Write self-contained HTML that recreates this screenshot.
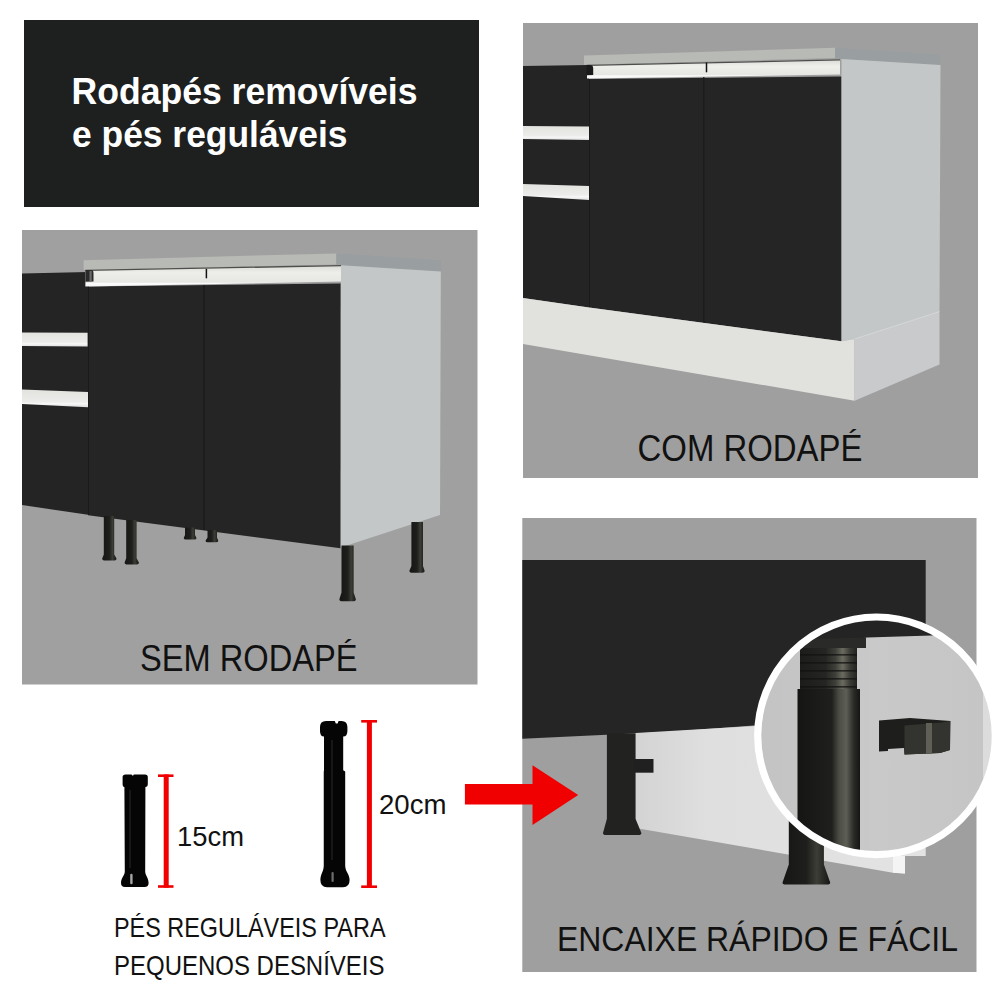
<!DOCTYPE html>
<html><head><meta charset="utf-8">
<style>
html,body{margin:0;padding:0;background:#fff;width:1000px;height:1000px;overflow:hidden}
svg{display:block}
text{font-family:"Liberation Sans",sans-serif}
</style></head><body>
<svg width="1000" height="1000" viewBox="0 0 1000 1000">
<defs>
<linearGradient id="hdl" x1="0" y1="0" x2="0" y2="1">
<stop offset="0" stop-color="#d9dad6"/><stop offset="0.35" stop-color="#eeefeb"/><stop offset="0.8" stop-color="#e6e7e3"/><stop offset="0.86" stop-color="#fbfbfb"/><stop offset="1" stop-color="#f4f4f4"/>
</linearGradient>
<linearGradient id="dh" x1="0" y1="0" x2="0" y2="1">
<stop offset="0" stop-color="#e2e3df"/><stop offset="0.7" stop-color="#ecedea"/><stop offset="0.8" stop-color="#f7f7f7"/><stop offset="1" stop-color="#dcdcdc"/>
</linearGradient>
<linearGradient id="plF" x1="0" y1="0" x2="1" y2="0">
<stop offset="0" stop-color="#d3d3d3"/><stop offset="0.25" stop-color="#dfdfdf"/><stop offset="1" stop-color="#e3e3e3"/>
</linearGradient>
<linearGradient id="wall" x1="0" y1="0" x2="1" y2="0">
<stop offset="0" stop-color="#c3c3c3"/><stop offset="0.5" stop-color="#c9c9c9"/><stop offset="1" stop-color="#c4c4c4"/>
</linearGradient>
<linearGradient id="legc" x1="0" y1="0" x2="1" y2="0">
<stop offset="0" stop-color="#151614"/><stop offset="0.55" stop-color="#1f201d"/><stop offset="0.66" stop-color="#4a4b43"/><stop offset="0.78" stop-color="#5d5e55"/><stop offset="0.9" stop-color="#2a2b27"/><stop offset="1" stop-color="#151513"/>
</linearGradient>
<linearGradient id="thr" x1="0" y1="0" x2="1" y2="0">
<stop offset="0" stop-color="#1c1d1b"/><stop offset="0.45" stop-color="#252623"/><stop offset="0.62" stop-color="#3e3f39"/><stop offset="0.75" stop-color="#6a6a60"/><stop offset="0.88" stop-color="#3a3a35"/><stop offset="1" stop-color="#222220"/>
</linearGradient>
<linearGradient id="legb" x1="0" y1="0" x2="1" y2="0">
<stop offset="0" stop-color="#161715"/><stop offset="0.5" stop-color="#1e1f1c"/><stop offset="0.72" stop-color="#3c3d36"/><stop offset="0.85" stop-color="#2a2b26"/><stop offset="1" stop-color="#171816"/>
</linearGradient>
<clipPath id="cc"><circle cx="876.5" cy="735.8" r="118.8"/></clipPath>
</defs>
<rect x="0" y="0" width="1000" height="1000" fill="#ffffff"/>

<rect x="24" y="20" width="455" height="187" fill="#1d201f"/>
<text x="71.5" y="104.2" font-size="37.7" font-weight="bold" fill="#ffffff" textLength="346" lengthAdjust="spacingAndGlyphs">Rodapés removíveis</text>
<text x="72" y="147" font-size="37.7" font-weight="bold" fill="#ffffff" textLength="275.5" lengthAdjust="spacingAndGlyphs">e pés reguláveis</text>
<rect x="523" y="23" width="455" height="455" fill="#9f9f9f"/>
<polygon points="523,66 589,65 589,307.5 523,298" fill="#242424"/>
<polygon points="589,79 841.5,76.5 841.5,341.3 589,307.5" fill="#252525"/>
<line x1="703.8" y1="77" x2="703.8" y2="323" stroke="#1b1b1b" stroke-width="1.2"/>
<line x1="589.5" y1="79" x2="589.5" y2="307.5" stroke="#1a1a1a" stroke-width="1"/>
<polygon points="584,55.6 835,47.7 835,58 584,64.8" fill="#b8bab6"/>
<polygon points="835,47.7 940.5,54.7 940.5,65 841.7,59 835,58" fill="#999ea0"/>
<polygon points="587,65 840,59.5 840,74.5 587,78.5" fill="url(#hdl)"/>
<line x1="587" y1="65.4" x2="840" y2="59.9" stroke="#4e4f4c" stroke-width="1.3"/>
<line x1="706.5" y1="62.5" x2="706.5" y2="72.3" stroke="#111" stroke-width="1.5"/>
<path d="M586.5,65 L591,65 Q593.2,65.5 593.2,68 L593.2,75 L586.5,75.2 Z" fill="#1a1a1a"/>
<polygon points="841.5,59 940.5,65 939.5,311.6 854.6,339 841.5,341.3" fill="#c3c7c8"/>
<polygon points="523,298 589,307.5 704.6,323 841.5,341.3 854.6,339 854.6,400.7 523,344" fill="#e1e2de"/>
<polygon points="854.6,339 939.5,311.6 939.5,364.4 854.6,400.7" fill="#c8cacc"/>
<line x1="854.6" y1="339" x2="939.5" y2="311.6" stroke="#d6d9da" stroke-width="1"/>
<polygon points="523,126 589,126.5 589,140 523,139" fill="url(#dh)"/>
<polygon points="523,184 589,186 589,200 523,196" fill="url(#dh)"/>
<text x="637.5" y="461" font-size="36" fill="#111" textLength="225" lengthAdjust="spacingAndGlyphs">COM RODAPÉ</text>
<rect x="22" y="230" width="455.5" height="454.5" fill="#a0a0a0"/>
<polygon points="22,273.4 88,272 88,514.7 22,505.1" fill="#242424"/>
<polygon points="88,286.6 340.5,283.4 340.5,548.3 88,515.2" fill="#252525"/>
<line x1="204" y1="285" x2="204" y2="530" stroke="#181818" stroke-width="1.2"/>
<line x1="88.5" y1="286" x2="88.5" y2="515" stroke="#1a1a1a" stroke-width="1"/>
<polygon points="83.6,260.2 336.4,253.4 336.4,264.6 83.6,270" fill="#b8bab6"/>
<polygon points="336.4,253.4 440.8,260.2 440.8,271.4 341.4,265.2 336.4,264.6" fill="#999ea0"/>
<polygon points="85.4,270 341.4,265.2 341.4,281.5 85.4,286.4" fill="url(#hdl)"/>
<line x1="85.4" y1="270.4" x2="341.4" y2="265.6" stroke="#4e4f4c" stroke-width="1.3"/>
<line x1="206.4" y1="268.8" x2="206.4" y2="278.3" stroke="#111" stroke-width="1.5"/>
<path d="M85.4,270 L92,270 Q93.5,270.5 93.5,273 L93.5,281.5 L85.4,281.8 Z" fill="#2a2a2a"/><rect x="89.5" y="271" width="2.2" height="10" fill="#6a6a6a"/>
<polygon points="341,265.2 440.8,271.4 440,515 340.8,547.4" fill="#c3c7c8"/>
<polygon points="22,332.4 87.6,332.8 87.6,346.6 22,346" fill="url(#dh)"/>
<polygon points="22,389.6 88,392 88,407.2 22,404" fill="url(#dh)"/>
<path d="M103.8,516 L114.2,516 L114.2,554.4 L116.5,558.6 Q116.5,560.6 113.5,560.6 L105.2,560.6 Q102.2,560.6 102.2,558.6 L103.8,554.4 Z" fill="url(#legb)"/>
<path d="M126.2,520 L136.6,520 L136.6,558.3 L138.9,562.5 Q138.9,564.5 135.9,564.5 L127.6,564.5 Q124.6,564.5 124.6,562.5 L126.2,558.3 Z" fill="url(#legb)"/>
<path d="M185,527.5 L195,527.5 L195,535 L196.5,538 Q196.5,539.5 194.25,539.5 L186,539.5 Q183.75,539.5 183.75,538 L185,535 Z" fill="url(#legb)"/>
<path d="M207.5,530 L217,530 L217,537.5 L218.25,540.667 Q218.25,542.25 215.875,542.25 L207.875,542.25 Q205.5,542.25 205.5,540.667 L207.5,537.5 Z" fill="url(#legb)"/>
<path d="M341.5,545.5 L353.65,545.5 L353.65,592.5 L355.85,599.3 Q355.85,601.3 352.85,601.3 L342.35,601.3 Q339.35,601.3 339.35,599.3 L341.5,592.5 Z" fill="url(#legb)"/>
<path d="M411.4,522 L423,522 L423,566.1 L424.6,570.7 Q424.6,572.7 421.6,572.7 L412.4,572.7 Q409.4,572.7 409.4,570.7 L411.4,566.1 Z" fill="url(#legb)"/>
<text x="140" y="670.5" font-size="37" fill="#111" textLength="217.5" lengthAdjust="spacingAndGlyphs">SEM RODAPÉ</text>
<path d="M122.6,777 Q122.6,774.4 125.5,774.4 L131.6,774.4 L132.2,775.6 L133.2,775.6 L133.8,774.4 L145,774.4 Q147.8,774.4 147.8,777 L147.8,784 Q147.8,787 145.4,787 L145.2,871.8 C145.5,876 148.6,878 148.6,883 Q148.6,887 144.5,887 L125,887 Q121,887 121,883 C121,878 124.5,876 124.8,871.8 L124.4,787 Q122.6,787 122.6,784 Z" fill="#050505"/>
<rect x="130.2" y="873.8" width="2.4" height="10.4" rx="1.2" fill="#d0d0d0" opacity="0.8"/>
<rect x="129" y="790" width="2" height="78" fill="#1c1c1c" opacity="0.8"/>
<path d="M320,727 Q320,721 326,721 L334.8,721 L335.8,723.5 L337.6,723.5 L338.6,721 L341.5,721 Q347.4,721 347.4,727 L347.4,731 Q347.4,736.5 343.2,736.5 L343.2,770.3 L345.2,771.5 L345.2,866 C345.5,872 349.6,874 349.6,880 Q349.6,887.3 343,887.3 L327,887.3 Q320.4,887.3 320.4,880 C320.4,874 323.5,872 323.75,866 L323.75,771.5 L324,770.3 L324,736.5 Q320,736.5 320,731 Z" fill="#050505"/>
<rect x="331" y="740" width="2" height="120" fill="#1c1c1c" opacity="0.8"/>
<rect x="331.5" y="872" width="2.2" height="10" rx="1.1" fill="#9a9a9a" opacity="0.7"/>
<g fill="#f00000">
<rect x="163.7" y="774.4" width="5" height="113.3"/>
<rect x="158" y="774.4" width="15.5" height="2.6"/>
<rect x="158" y="885.2" width="15.5" height="2.6"/>
<rect x="366.9" y="720" width="5" height="168"/>
<rect x="361.2" y="720" width="15.8" height="2.6"/>
<rect x="361.2" y="885.4" width="15.8" height="2.6"/>
</g>
<text x="177" y="846.3" font-size="27.5" fill="#111" textLength="67" lengthAdjust="spacingAndGlyphs">15cm</text>
<text x="379" y="814.3" font-size="27.5" fill="#111" textLength="67.5" lengthAdjust="spacingAndGlyphs">20cm</text>
<text x="114" y="937" font-size="27.3" fill="#111" textLength="271.5" lengthAdjust="spacingAndGlyphs">PÉS REGULÁVEIS PARA</text>
<text x="114" y="974.6" font-size="27.8" fill="#111" textLength="270.5" lengthAdjust="spacingAndGlyphs">PEQUENOS DESNÍVEIS</text>
<rect x="522.3" y="518" width="454.2" height="454" fill="#9f9f9f"/>
<polygon points="522.3,560 925.7,560 925.7,716 760,725 670,731.7 522.3,738.75" fill="#252525"/>
<polygon points="635.5,733 925.7,716 925.7,856 905,856 905,873.6 893,872.7 635.5,828" fill="url(#plF)"/>
<polygon points="893,856 905,856 905,873.6 893,872.7" fill="#f4f4f4"/>
<path d="M606.9,733.5 L635.5,733.5 L635.5,818.8 L641.4,833.1 Q641.4,835.1 638.4,835.1 L606,835.1 Q603,835.1 603,833.1 L606.9,818.8 Z" fill="#222220"/>
<polygon points="634.2,759 653.5,759 653.5,772.7 634.2,772.7" fill="#202020"/>
<path d="M788.8,800 L823.9,800 L823.9,864.6 L830.2,882.4 Q830.2,884.4 827.2,884.4 L785.5,884.4 Q782.5,884.4 782.5,882.4 L788.8,864.6 Z" fill="url(#legb)"/>
<g clip-path="url(#cc)">
<rect x="750" y="610" width="260" height="260" fill="url(#wall)"/>
<polygon points="750,610 1010,610 1010,633 867,637.5 800,648 750,652" fill="#242424"/>
<polygon points="803,639 866,637.5 866,648 803,648" fill="#2a2a28"/>
<rect x="800" y="648" width="57" height="41" fill="url(#thr)"/>
<rect x="800" y="654" width="57" height="1.6" fill="#121211" opacity="0.75"/>
<rect x="800" y="662" width="57" height="1.6" fill="#121211" opacity="0.75"/>
<rect x="800" y="670" width="57" height="1.6" fill="#121211" opacity="0.75"/>
<rect x="800" y="678" width="57" height="1.6" fill="#121211" opacity="0.75"/>
<rect x="800" y="686" width="57" height="1.6" fill="#121211" opacity="0.75"/>
<rect x="797.5" y="689" width="62.5" height="180" fill="url(#legc)"/>
<polygon points="879,720.5 910,718 950.5,721 950,750 940,753 904.5,754.5 904,748 888,749 888,751 879,751.5" fill="#1e1e1d"/>
<polygon points="904.5,725.5 942,722.5 950,721 950,750 940,753 904.5,754.5" fill="#33332f"/>
<rect x="926" y="723" width="6" height="30.5" fill="#5f5f56"/>
<polygon points="983,690 1000,690 1000,860 983,860" fill="#dcdcdc"/>
</g>
<circle cx="876.5" cy="735.8" r="118.8" fill="none" stroke="#ffffff" stroke-width="7.2"/>
<text x="557" y="950.8" font-size="35" fill="#111" textLength="401" lengthAdjust="spacingAndGlyphs">ENCAIXE RÁPIDO E FÁCIL</text>
<polygon points="464.9,784 532.5,784 532.5,765.3 578.2,795 532.5,825.1 532.5,804.4 464.9,804.4" fill="#f00000"/>
</svg>
</body></html>
